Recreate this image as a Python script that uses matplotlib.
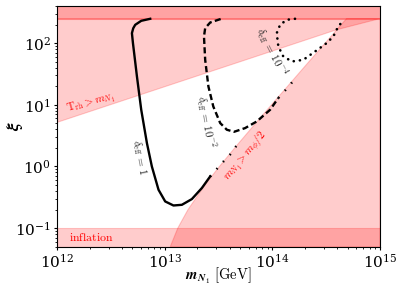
import matplotlib
matplotlib.use("Agg")
import matplotlib.pyplot as plt
import numpy as np

plt.rcParams['mathtext.fontset'] = 'cm'
plt.rcParams['font.family'] = 'serif'
plt.rcParams['font.serif'] = ['DejaVu Serif']

# ---- data ----
# delta_eff = 1 (solid)
d1_m = [7.31e12, 6.03e12, 5.30e12, 5.08e12, 4.94e12, 5.05e12, 5.50e12, 6.03e12, 6.81e12,
        7.57e12, 8.73e12, 1.007e13, 1.202e13, 1.439e13, 1.782e13, 2.208e13, 2.636e13]
d1_xi = [248, 230, 198, 174, 145, 100, 28.8, 8.30, 2.39,
         1.0, 0.419, 0.271, 0.233, 0.239, 0.296, 0.447, 0.689]
d1_tail_m = [2.636e13, 2.83e13, 3.22e13, 4.03e13, 4.70e13]
d1_tail_xi = [0.689, 0.782, 1.03, 1.55, 2.25]

# delta_eff = 1e-2 (dashed)
d2_m = [3.30e13, 2.64e13, 2.37e13, 2.31e13, 2.37e13, 2.54e13, 2.82e13, 3.27e13, 3.77e13,
        4.40e13, 5.57e13, 7.14e13, 9.51e13, 1.135e14]
d2_xi = [246, 216, 175, 128, 53.6, 19.8, 9.38, 5.05, 3.94,
         3.65, 4.19, 5.36, 8.30, 12.9]
d2_tail_m = [1.135e14, 1.426e14, 1.622e14]
d2_tail_xi = [12.9, 20.0, 26.7]

# delta_eff = 1e-4 (dotted)
d4_m = [1.622e14, 1.358e14, 1.178e14, 1.096e14, 1.135e14, 1.262e14, 1.521e14, 1.936e14,
        2.489e14, 3.19e14, 3.68e14, 4.09e14, 4.55e14]
d4_xi = [248, 239, 198, 145, 88.1, 60.7, 50.4, 53.6, 73.1, 100, 128, 186, 232]

# m_N1 > m_phi/2 boundary
mphi_m = [1.122e13, 1.318e13, 1.641e13, 2.355e13, 3.214e13, 4.457e13, 6.966e13, 9.795e13,
          1.384e14, 2.183e14, 3.090e14, 3.963e14, 4.887e14]
mphi_xi = [0.05, 0.1, 0.2, 0.5, 1, 2, 5, 10, 20, 50, 100, 165, 250]

# T_rh > m_N1 boundary
trh_m = [1e12, 3.963e14, 1e15]
trh_xi = [5.2, 165, 250]

xi_top_band = 250
xi_inflation = 0.1
xlim = (1e12, 1e15)
ylim = (0.05, 400)

fig = plt.figure(figsize=(3.99, 2.92), dpi=100)
ax = fig.add_axes([0.1436, 0.1551, 0.9524 - 0.1436, 0.9795 - 0.1551])
ax.set_xscale('log')
ax.set_yscale('log')

fc = (1, 0, 0, 0.2)
# T_rh region
ax.fill(trh_m + [xlim[1], xlim[0]], trh_xi + [xi_top_band, xi_top_band],
        facecolor=fc, edgecolor=fc, lw=0.8, zorder=1)
# m_phi region
ax.fill(mphi_m + [xlim[1], xlim[1]], mphi_xi + [xi_top_band, ylim[0]],
        facecolor=fc, edgecolor=fc, lw=0.8, zorder=1)
# top band
ax.fill_between(xlim, xi_top_band, ylim[1], facecolor=(1, 0, 0, 0.36),
                edgecolor=fc, lw=0.8, zorder=1)
# inflation band
ax.fill_between(xlim, ylim[0], xi_inflation, facecolor=fc, edgecolor=fc, lw=0.8, zorder=1)

ax.plot(d1_m, d1_xi, color='black', lw=1.7, zorder=3)
ax.plot(d1_tail_m, d1_tail_xi, color='black', lw=1.7, ls=(0, (0.6, 3.5)), zorder=3)
ax.plot(d2_m, d2_xi, color='black', lw=1.7, ls=(0, (2.6, 1.4)), zorder=3)
ax.plot(d2_tail_m, d2_tail_xi, color='black', lw=1.7, ls=(0, (0.6, 3.5)), zorder=3)
ax.plot(d4_m, d4_xi, color='black', lw=1.9, ls=(0, (0.05, 2.3)),
        dash_capstyle='round', zorder=3)

ax.set_xlim(*xlim)
ax.set_ylim(*ylim)

ax.text(5.74e12, 1.38, r'$\delta_{\rm eff}\,=\,1$', rotation=-79, fontsize=8,
        ha='center', va='center', color='#222222', rotation_mode='anchor')
ax.text(2.41e13, 5.28, r'$\delta_{\rm eff}\,=\,10^{-2}$', rotation=-80, fontsize=8,
        ha='center', va='center', color='#222222', rotation_mode='anchor')
ax.text(9.8e13, 72, r'$\delta_{\rm eff}\,=\,10^{-4}$', rotation=-63, fontsize=8,
        ha='center', va='center', color='#222222', rotation_mode='anchor')
ax.text(2.05e12, 10.8, r'$\mathrm{T_{rh}} > m_{N_1}$', rotation=15.5, fontsize=8,
        ha='center', va='center', color='red', rotation_mode='anchor')
ax.text(5.6e13, 1.45, r'$m_{N_1} > m_{\phi}/2$', rotation=50, fontsize=8,
        ha='center', va='center', color='red', rotation_mode='anchor')
ax.text(2.05e12, 0.071, r'$\mathrm{inflation}$', fontsize=8.5,
        ha='center', va='center', color='red')

ax.set_xlabel(r'$\mathbfit{m}_{\mathbfit{N}_{\mathbf{1}}}\ [\mathrm{GeV}]$', fontsize=10.5, va='center')
ax.xaxis.set_label_coords(0.498, -0.122)
ax.set_ylabel(r'$\mathbfit{\xi}$', fontsize=13, va='center')
ax.yaxis.set_label_coords(-0.131, 0.5)
ax.tick_params(axis='both', which='major', labelsize=11, length=2.5, width=0.8, pad=2)
ax.tick_params(axis='both', which='minor', length=1.6, width=0.6)

fig.savefig('out.png', dpi=100)
